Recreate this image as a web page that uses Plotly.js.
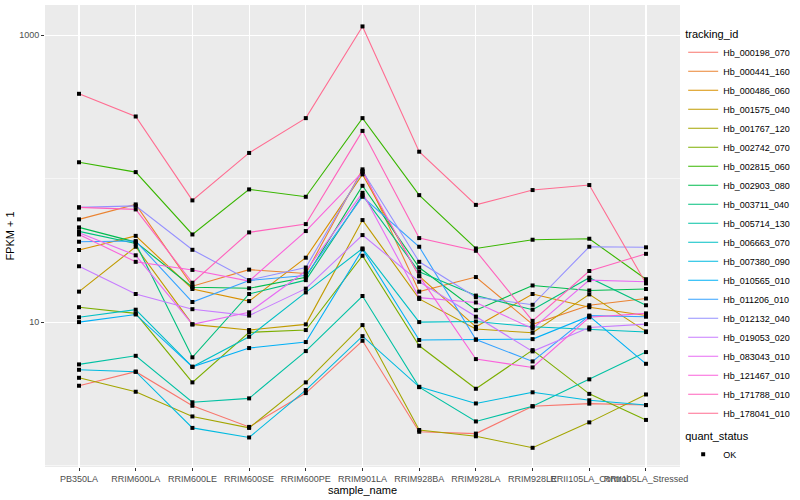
<!DOCTYPE html>
<html>
<head>
<meta charset="utf-8">
<script src="https://cdn.plot.ly/plotly-3.0.1.min.js"></script>
<style>html,body{margin:0;padding:0;background:#fff}#chart{width:800px;height:500px}</style>
</head>
<body>
<div id="chart"></div>
<script>
// ---- data ----
const sampleNames = ["PB350LA","RRIM600LA","RRIM600LE","RRIM600SE","RRIM600PE","RRIM901LA","RRIM928BA","RRIM928LA","RRIM928LE","RRII105LA_Control","RRII105LA_Stressed"];
const trackingIds = ["Hb_000198_070","Hb_000441_160","Hb_000486_060","Hb_001575_040","Hb_001767_120","Hb_002742_070","Hb_002815_060","Hb_002903_080","Hb_003711_040","Hb_005714_130","Hb_006663_070","Hb_007380_090","Hb_010565_010","Hb_011206_010","Hb_012132_040","Hb_019053_020","Hb_083043_010","Hb_121467_010","Hb_171788_010","Hb_178041_010"];

const hb000198_070 = [3.60, 4.51, 2.61, 1.86, 3.20, 7.41, 1.72, 1.67, 2.59, 2.70, 2.64];
const hb000441_160 = [52.0, 66.1, 17.8, 23.2, 21.8, 116, 16.3, 20.6, 9.64, 13.1, 14.6];
const hb000486_060 = [31.8, 39.9, 17.0, 14.0, 28.1, 107, 20.9, 9.27, 15.7, 12.7, 11.1];
const hb001575_040 = [16.3, 33.5, 9.64, 8.80, 9.64, 51.4, 14.5, 8.94, 8.42, 15.6, 8.61];
const hb001767_120 = [4.09, 3.27, 2.20, 1.83, 3.80, 9.53, 1.77, 1.60, 1.33, 2.00, 3.13];
const hb002742_070 = [12.7, 11.5, 3.80, 8.48, 8.80, 29.0, 6.84, 3.43, 6.38, 3.16, 2.08];
const hb002815_060 = [130, 111, 40.8, 84.1, 74.7, 264, 76.7, 32.6, 37.5, 38.1, 19.9];
const hb002903_080 = [45.7, 36.1, 17.5, 17.2, 20.5, 89.1, 24.0, 12.1, 18.0, 16.6, 17.0];
const hb003711_040 = [42.9, 35.3, 5.68, 15.7, 19.6, 76.7, 22.4, 15.3, 12.2, 20.4, 13.1];
const hb005714_130 = [5.07, 5.82, 2.76, 2.94, 6.28, 15.2, 3.52, 2.03, 2.59, 3.99, 6.18];
const hb006663_070 = [10.8, 12.2, 4.88, 7.90, 16.1, 32.6, 10.0, 10.1, 9.27, 8.89, 8.52];
const hb007380_090 = [4.65, 4.51, 1.83, 1.57, 3.36, 7.98, 3.54, 2.71, 3.24, 2.85, 2.64];
const hb010565_010 = [10.0, 11.3, 4.88, 6.59, 7.26, 32.1, 7.50, 7.55, 7.61, 11.0, 5.12];
const hb011206_010 = [36.3, 36.7, 13.8, 19.5, 21.1, 74.7, 33.5, 7.55, 5.32, 11.1, 10.9];
const hb012132_040 = [63.0, 64.6, 31.9, 19.6, 24.0, 113, 26.3, 14.9, 13.2, 33.5, 33.2];
const hb019053_020 = [24.5, 15.7, 12.3, 11.1, 17.1, 40.4, 19.1, 10.9, 6.25, 9.18, 9.68];
const hb083043_010 = [42.0, 29.2, 9.64, 11.7, 22.7, 79.6, 14.8, 13.7, 9.01, 19.6, 19.1];
const hb121467_010 = [40.8, 26.3, 23.1, 19.3, 43.1, 111, 20.9, 5.52, 4.83, 10.8, 11.5];
const hb171788_010 = [63.0, 61.0, 18.8, 42.2, 48.2, 215, 38.5, 31.4, 10.2, 22.7, 29.9];
const hb178041_010 = [390, 271, 70.5, 151, 264, 1150, 154, 65.6, 83.2, 90.2, 18.6];

const seriesValues = [hb000198_070, hb000441_160, hb000486_060, hb001575_040, hb001767_120, hb002742_070, hb002815_060, hb002903_080, hb003711_040, hb005714_130, hb006663_070, hb007380_090, hb010565_010, hb011206_010, hb012132_040, hb019053_020, hb083043_010, hb121467_010, hb171788_010, hb178041_010];
const yTickVals = [10, 1000];
const yTickText = ["10", "1000"];
const quantStatus = "OK";

// ---- styles ----
const palette = ["#F8766D","#EA8331","#D89000","#C09B00","#A3A500","#7CAE00","#39B600","#00BB4E","#00BF7D","#00C1A3","#00BFC4","#00BAE0","#00B0F6","#35A2FF","#9590FF","#C77CFF","#E76BF3","#FA62DB","#FF62BC","#FF6C91"];
const FONT = "Liberation Sans, Arial, sans-serif";

const traces = trackingIds.map((id, i) => ({
  type: "scatter", mode: "lines", name: id, x: sampleNames, y: seriesValues[i],
  line: {color: palette[i], width: 1.1}, legend: "legend", hoverinfo: "skip"
}));
const allX = [], allY = [];
seriesValues.forEach(v => v.forEach((val, j) => { allX.push(sampleNames[j]); allY.push(val); }));
traces.push({
  type: "scatter", mode: "markers", name: quantStatus, x: allX, y: allY,
  marker: {color: "#000", size: 4, symbol: "square"}, legend: "legend2", hoverinfo: "skip"
});

const layout = {
  width: 800, height: 500,
  margin: {l: 45, r: 116, t: 5, b: 33},
  paper_bgcolor: "#ffffff", plot_bgcolor: "#EBEBEB",
  font: {family: FONT, color: "#000"},
  xaxis: {
    type: "category", range: [-0.6, 10.6], tickangle: 0,
    showgrid: true, gridcolor: "#ffffff", gridwidth: 1.1, zeroline: false, showline: false,
    ticks: "outside", ticklen: 3, tickwidth: 1, tickcolor: "#333333",
    tickfont: {family: FONT, size: 9, color: "#4D4D4D"},
    title: {text: "sample_name", font: {family: FONT, size: 11, color: "#000"}, standoff: 2},
    automargin: false
  },
  yaxis: {
    type: "log", range: [-0.01, 3.21], tickvals: yTickVals, ticktext: yTickText,
    showgrid: true, gridcolor: "#ffffff", gridwidth: 1.1, zeroline: false, showline: false,
    ticks: "outside", ticklen: 3, tickwidth: 1, tickcolor: "#333333",
    tickfont: {family: FONT, size: 9, color: "#4D4D4D"},
    minor: {tickvals: [1, 100], showgrid: true, gridcolor: "#ffffff", gridwidth: 0.55, ticks: ""},
    title: {text: "FPKM + 1", font: {family: FONT, size: 11, color: "#000"}, standoff: 2},
    automargin: false
  },
  legend: {
    x: 1.005, xanchor: "left", y: 0.96, yanchor: "top",
    title: {text: "tracking_id", font: {family: FONT, size: 11, color: "#000"}},
    font: {family: FONT, size: 9, color: "#000"},
    bgcolor: "rgba(0,0,0,0)", itemwidth: 30, tracegroupgap: 0
  },
  legend2: {
    x: 1.005, xanchor: "left", y: 0.09, yanchor: "top",
    title: {text: "quant_status", font: {family: FONT, size: 11, color: "#000"}},
    font: {family: FONT, size: 9, color: "#000"},
    bgcolor: "rgba(0,0,0,0)", itemwidth: 30
  },
  showlegend: true
};

Plotly.newPlot("chart", traces, layout, {displayModeBar: false, staticPlot: true});
</script>
</body>
</html>
